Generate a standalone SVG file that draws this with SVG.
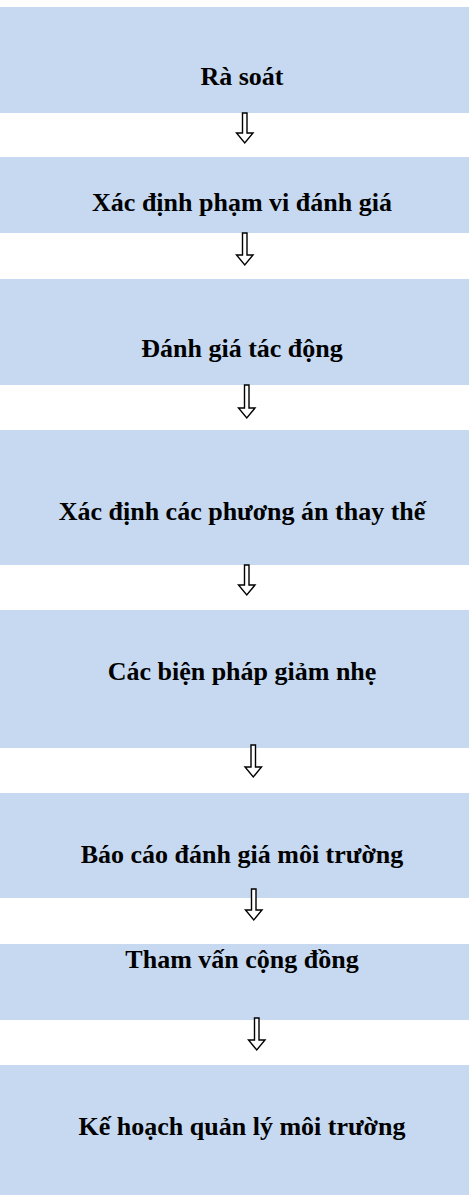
<svg xmlns="http://www.w3.org/2000/svg" width="469" height="1195" viewBox="0 0 469 1195">
<style>
.box{fill:#C6D9F0;stroke:none}
.lbl{font-family:"Liberation Serif","Times New Roman",serif;font-weight:bold;font-size:26px;fill:#000;text-anchor:middle}
.arr{fill:#fff;stroke:#000;stroke-width:1.4;stroke-linejoin:miter}
</style>
<rect x="0" y="0" width="469" height="1195" fill="#fff"/>
<g id="n1"><rect class="box" x="0" y="7" width="469" height="106"/><text class="lbl" x="242" y="85">Rà soát</text></g>
<g id="n2"><rect class="box" x="0" y="157" width="469" height="76"/><text class="lbl" x="242" y="211">Xác định phạm vi đánh giá</text></g>
<g id="n3"><rect class="box" x="0" y="279" width="469" height="106"/><text class="lbl" x="242" y="357">Đánh giá tác động</text></g>
<g id="n4"><rect class="box" x="0" y="430" width="469" height="135"/><text class="lbl" x="242" y="520">Xác định các phương án thay thế</text></g>
<g id="n5"><rect class="box" x="0" y="610" width="469" height="138"/><text class="lbl" x="242" y="680">Các biện pháp giảm nhẹ</text></g>
<g id="n6"><rect class="box" x="0" y="793" width="469" height="105"/><text class="lbl" x="242" y="863">Báo cáo đánh giá môi trường</text></g>
<g id="n7"><rect class="box" x="0" y="944" width="469" height="76"/><text class="lbl" x="242" y="968">Tham vấn cộng đồng</text></g>
<g id="n8"><rect class="box" x="0" y="1065" width="469" height="130"/><text class="lbl" x="242" y="1135">Kế hoạch quản lý môi trường</text></g>
<g id="connectors">
<path class="arr" d="M242.5,113 L247,113 L247,133 L253,133 L244.75,143 L236.5,133 L242.5,133 Z"/>
<path class="arr" d="M242.5,233 L247,233 L247,255 L253,255 L244.75,265 L236.5,255 L242.5,255 Z"/>
<path class="arr" d="M244.5,385 L249,385 L249,408 L255,408 L246.75,418 L238.5,408 L244.5,408 Z"/>
<path class="arr" d="M244.5,565 L249,565 L249,585 L255,585 L246.75,595 L238.5,585 L244.5,585 Z"/>
<path class="arr" d="M251,745 L255.5,745 L255.5,767 L261.5,767 L253.25,777 L245,767 L251,767 Z"/>
<path class="arr" d="M251.5,889 L256,889 L256,910 L262,910 L253.75,920 L245.5,910 L251.5,910 Z"/>
<path class="arr" d="M254.5,1018 L259,1018 L259,1040 L265,1040 L256.75,1050 L248.5,1040 L254.5,1040 Z"/>
</g>
</svg>
